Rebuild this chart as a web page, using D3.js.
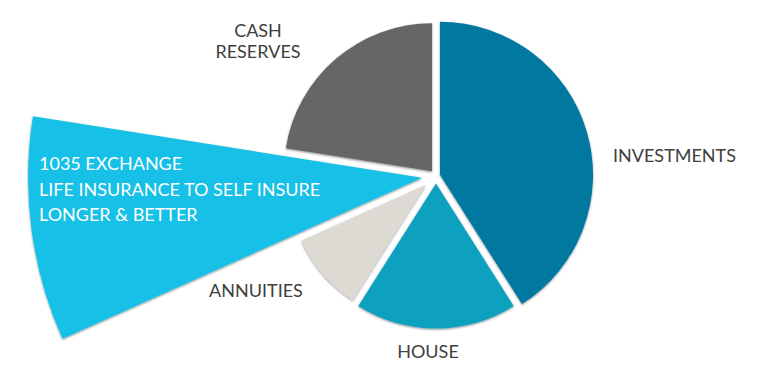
<!DOCTYPE html>
<html>
<head>
<meta charset="utf-8">
<script src="https://cdn.jsdelivr.net/npm/d3@7/dist/d3.min.js"></script>
<style>
  html, body { margin: 0; padding: 0; background: #fff; }
  svg { display: block; }
</style>
</head>
<body>
<svg id="chart" width="769" height="379"></svg>
<script>
// data
const categories = ['INVESTMENTS', 'HOUSE', 'ANNUITIES', '1035 EXCHANGE', 'CASH RESERVES'];
const values = [41, 18, 9.3, 9.2, 22.5];
const labelLines = [
    ['INVESTMENTS'],
    ['HOUSE'],
    ['ANNUITIES'],
    ['1035 EXCHANGE', 'LIFE INSURANCE TO SELF INSURE', 'LONGER & BETTER'],
    ['CASH', 'RESERVES']
];

// layout / style
const WIDTH = 769;
const HEIGHT = 379;
const CX = 436;
const CY = 176;
const GAP = 8;
const OUTER_R = [153, 145, 136, 394, 148];
const COLORS = ['#00789f', '#0aa1bf', '#dcdad3', '#19c0e6', '#666666'];
const COLOR_TEXT = '#404040';
const FONT = 'Lato, "Open Sans", sans-serif';
const FONT_SIZE = 18;
// label anchor: x, y of first baseline, text-anchor, colour
const LABEL_POS = [
    { x: 613, y: 162, anchor: 'start', fill: COLOR_TEXT },
    { x: 428, y: 358, anchor: 'middle', fill: COLOR_TEXT },
    { x: 256, y: 297, anchor: 'middle', fill: COLOR_TEXT },
    { x: 39, y: 170, anchor: 'start', fill: '#ffffff', lineH: 25.5 },
    { x: 258, y: 37, anchor: 'middle', fill: COLOR_TEXT, lineH: 21 }
];

const svg = d3.select('#chart');

const defs = svg.append('defs');
const shadow = defs.append('filter')
    .attr('id', 'shadow')
    .attr('x', '-10%').attr('y', '-10%')
    .attr('width', '120%').attr('height', '120%');
shadow.append('feDropShadow')
    .attr('dx', 0)
    .attr('dy', 1)
    .attr('stdDeviation', 1.2)
    .attr('flood-color', '#000')
    .attr('flood-opacity', 0.45);

const pie = d3.pie().sort(null).value(d => d);
const arcs = pie(values);

const g = svg.append('g').attr('transform', `translate(${CX},${CY})`);

// 조각마다 bisector 방향으로 밀어서 일정한 폭의 틈을 만든다
arcs.forEach(function (a, i) {
    let half = (a.endAngle - a.startAngle) / 2;
    let mid = a.startAngle + half;
    let d = (GAP / 2) / Math.sin(Math.min(half, Math.PI / 2));
    let dx = Math.sin(mid) * d;
    let dy = -Math.cos(mid) * d;
    let arc = d3.arc().innerRadius(0).outerRadius(OUTER_R[i]);
    g.append('path')
        .attr('d', arc(a))
        .attr('transform', `translate(${dx},${dy})`)
        .attr('fill', COLORS[i])
        .attr('filter', 'url(#shadow)');
});

// labels
labelLines.forEach(function (lines, i) {
    let p = LABEL_POS[i];
    let t = svg.append('text')
        .attr('x', p.x)
        .attr('y', p.y)
        .attr('text-anchor', p.anchor)
        .attr('fill', p.fill)
        .attr('font-family', FONT)
        .attr('font-size', FONT_SIZE);
    lines.forEach(function (line, j) {
        t.append('tspan')
            .attr('x', p.x)
            .attr('dy', j === 0 ? 0 : p.lineH)
            .text(line);
    });
});
</script>
</body>
</html>
